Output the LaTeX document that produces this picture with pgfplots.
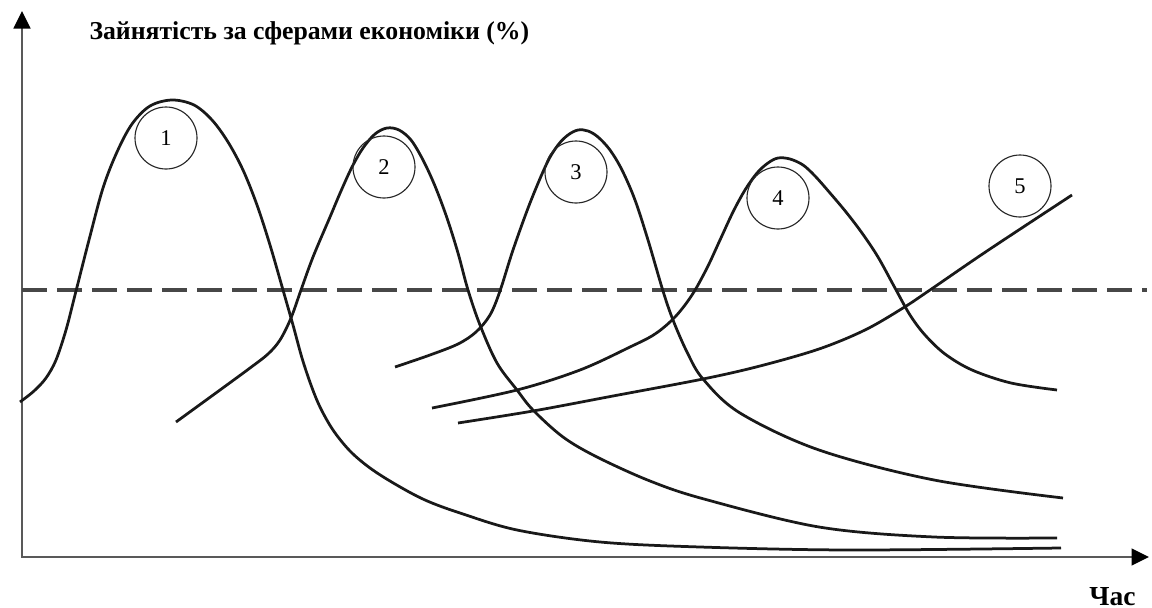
\documentclass[border=0pt]{standalone}
\usepackage{fontspec}
\setmainfont{Liberation Serif}
\usepackage{pgfplots}
\usepackage{pgfplotstable}
\pgfplotsset{compat=1.18}
\usetikzlibrary{arrows.meta}

% curve points in picture pixels (x right, y down)
\pgfplotstableread{
x y
20 402
34 391
46 378
56 360
66 330
75 295
89 240
103 188
117 152
132 124
150 106
172 100
194 105
212 120
228 142
243 170
257 205
270 245
283 290
293 325
302 358
311 385
320 407
333 430
350 451
370 468
395 484
425 500
460 513
517 530
600 542
700 547
850 550
1061 548
}\curveone

\pgfplotstableread{
x y
176 422
220 390
250 368
268 354
280 340
291 318
301 290
313 257
330 217
341 191
352 167
363 148
375 134
387 128
399 130
411 140
423 160
435 186
447 218
458 253
468 290
480 325
497 363
517 390
533 410
563 437
597 457
650 481
704 499
819 527
934 537
1057 538
}\curvetwo

\pgfplotstableread{
x y
395 367
430 355
458 344
476 332
490 315
500 291
513 250
530 203
547 163
558 145
568 135
578 130
588 131
598 137
610 150
622 170
635 200
648 240
663 291
673 320
687 352
703 379
740 413
819 450
934 480
1063 498
}\curvethree

\pgfplotstableread{
x y
432 408
517 390
580 370
630 347
655 334
675 317
692 295
707 268
720 240
733 212
745 190
757 173
768 163
778 158
790 159
803 165
815 176
830 193
846 212
862 233
878 257
895 288
910 315
925 335
945 354
972 370
1011 383
1057 390
}\curvefour

\pgfplotstableread{
x y
458 423
533 411
613 396
703 379
760 366
819 349
865 330
903 308
930 290
987 251
1072 195
}\curvefive

\tikzset{numcirc/.style={draw=black!85, line width=0.45pt, circle, minimum size=24.8pt,
  inner sep=0pt, font=\fontsize{9}{10}\selectfont}}

\begin{document}
\begin{tikzpicture}
\begin{axis}[
    scale only axis,
    width=460.8pt, height=243.2pt,
    xmin=0, xmax=1152, ymin=0, ymax=608,
    y dir=reverse,
    hide axis,
    clip=false,
]
  \path (axis cs:0,0) rectangle (axis cs:1152,608);
  % axes
  \draw[black!65, line width=0.6pt,
        {Triangle[length=7pt,width=6.8pt,color=black]}-{Triangle[length=7pt,width=6.8pt,color=black]}]
        (axis cs:22,11) -- (axis cs:22,557) -- (axis cs:1149,557);
  % dashed level
  \addplot[black!72, line width=1.25pt, dash pattern=on 9.8pt off 4.2pt, sharp plot]
        coordinates {(22,290) (1147,290)};
  % the five curves
  \addplot[black!90, line width=1.1pt, smooth, tension=0.55] table {\curveone};
  \addplot[black!90, line width=1.1pt, smooth, tension=0.55] table {\curvetwo};
  \addplot[black!90, line width=1.1pt, smooth, tension=0.55] table {\curvethree};
  \addplot[black!90, line width=1.1pt, smooth, tension=0.55] table {\curvefour};
  \addplot[black!90, line width=1.1pt, smooth, tension=0.55] table {\curvefive};
  % numbered circles
  \node[numcirc] at (axis cs:166,138) {1};
  \node[numcirc] at (axis cs:384,167) {2};
  \node[numcirc] at (axis cs:576,172) {3};
  \node[numcirc] at (axis cs:778,198) {4};
  \node[numcirc] at (axis cs:1020,186) {5};
  % labels
  \node[anchor=base west, inner sep=0pt, font=\bfseries\fontsize{10.3}{12}\selectfont]
        at (axis cs:89,39) {Зайнятість за сферами економіки (\%)};
  \node[anchor=base east, inner sep=0pt, font=\bfseries\fontsize{11}{13}\selectfont]
        at (axis cs:1136,605) {Час};
\end{axis}
\end{tikzpicture}
\end{document}
